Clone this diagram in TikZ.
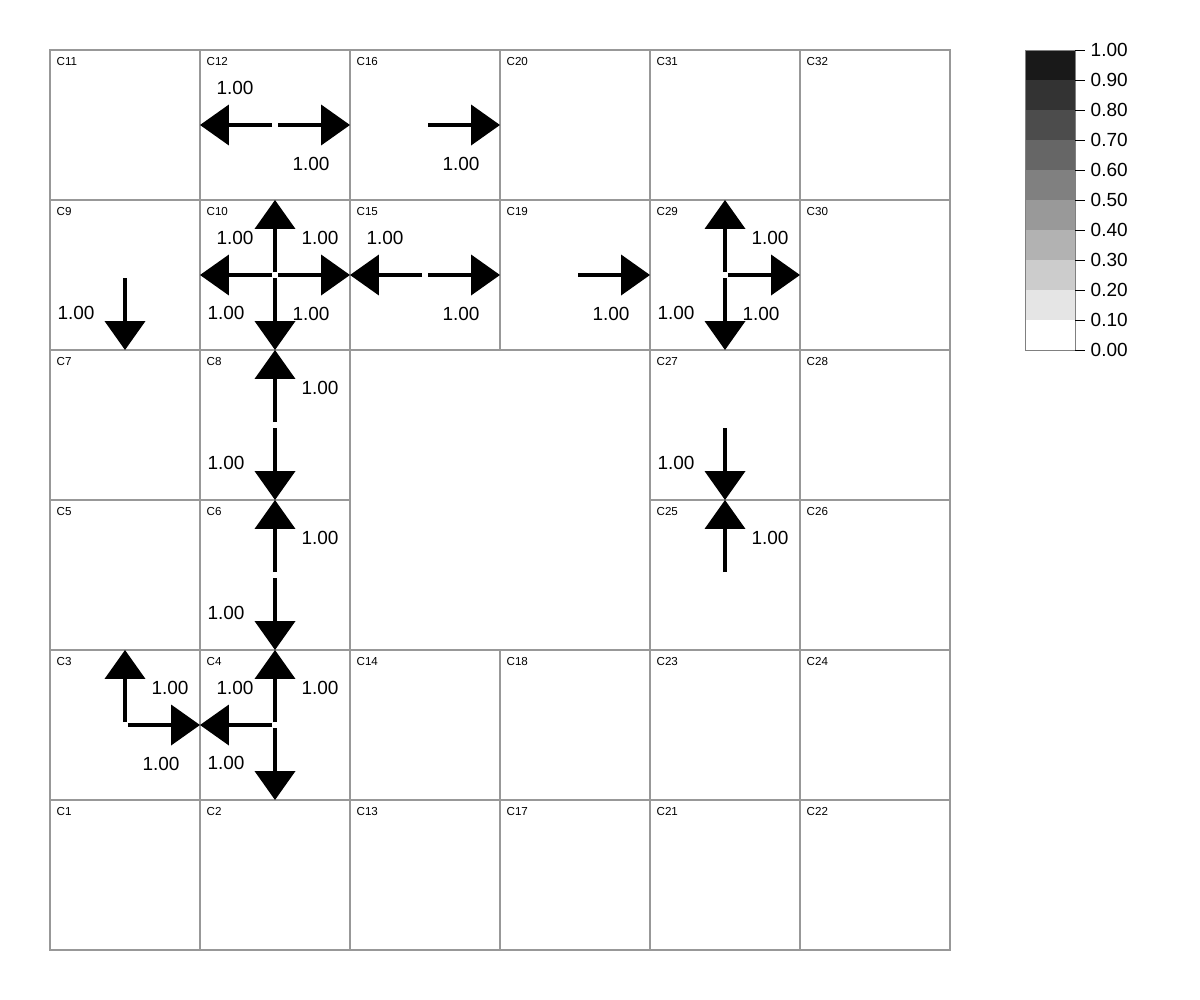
\documentclass[tikz,border=0pt]{standalone}
\usepackage{fontspec}
\setmainfont{Liberation Sans}
\usetikzlibrary{arrows.meta, positioning}
\definecolor{gridgray}{RGB}{152, 152, 152}

\begin{document}
\begin{tikzpicture}[x=0.01cm, y=-0.01cm,
    cell/.style={draw=gridgray, line width=0.2mm, minimum size=1.5cm, inner sep=0, outer sep=0},
    cname/.style={anchor=north west, inner sep=0, font=\fontsize{3.3}{4}\selectfont},
    val/.style={inner sep=0, font=\fontsize{5.4}{6}\selectfont},
    flow/.style={line width=0.4mm, -{Triangle[length=2.9mm, width=4mm]}}]

    % nen trang, khung 1200 x 1000
    \fill[white] (0,0) rectangle (1200,1000);
    \useasboundingbox (0,0) rectangle (1200,1000);

    % cac o luoi va ten o
    \foreach \n/\x/\y in {11/125/125, 12/275/125, 16/425/125, 20/575/125, 31/725/125, 32/875/125,
                          9/125/275, 10/275/275, 15/425/275, 19/575/275, 29/725/275, 30/875/275,
                          7/125/425, 8/275/425, 27/725/425, 28/875/425,
                          5/125/575, 6/275/575, 25/725/575, 26/875/575,
                          3/125/725, 4/275/725, 14/425/725, 18/575/725, 23/725/725, 24/875/725,
                          1/125/875, 2/275/875, 13/425/875, 17/575/875, 21/725/875, 22/875/875}{
        \node[cell] (c\n) at (\x,\y) {};
        \node[cname] (t\n) at ([shift={(6,7)}]c\n.north west) {C\n};
    }

    %C12
    \draw[flow] ([shift={(-3,0)}]c12.center) -- (c12.west);
    \node[val] (v12w) at ([shift={(-40,-37)}]c12.center) {1.00};
    \draw[flow] ([shift={(3,0)}]c12.center) -- (c12.east);
    \node[val] (v12e) at ([shift={(36,38.5)}]c12.center) {1.00};
    %C16
    \draw[flow] ([shift={(3,0)}]c16.center) -- (c16.east);
    \node[val] (v16e) at ([shift={(36,38.5)}]c16.center) {1.00};

    %C10
    \draw[flow] ([shift={(0,-3)}]c10.center) -- (c10.north);
    \node[val] (v10n) at ([shift={(45,-37.5)}]c10.center) {1.00};
    \draw[flow] ([shift={(-3,0)}]c10.center) -- (c10.west);
    \node[val] (v10w) at ([shift={(-40,-37)}]c10.center) {1.00};
    \draw[flow] ([shift={(3,0)}]c10.center) -- (c10.east);
    \node[val] (v10e) at ([shift={(36,38.5)}]c10.center) {1.00};
    \draw[flow] ([shift={(0,3)}]c10.center) -- (c10.south);
    \node[val] (v10s) at ([shift={(-49,37.5)}]c10.center) {1.00};
    %C15
    \draw[flow] ([shift={(-3,0)}]c15.center) -- (c15.west);
    \node[val] (v15w) at ([shift={(-40,-37)}]c15.center) {1.00};
    \draw[flow] ([shift={(3,0)}]c15.center) -- (c15.east);
    \node[val] (v15e) at ([shift={(36,38.5)}]c15.center) {1.00};
    %C19
    \draw[flow] ([shift={(3,0)}]c19.center) -- (c19.east);
    \node[val] (v19e) at ([shift={(36,38.5)}]c19.center) {1.00};
    %C29
    \draw[flow] ([shift={(0,-3)}]c29.center) -- (c29.north);
    \node[val] (v29n) at ([shift={(45,-37.5)}]c29.center) {1.00};
    \draw[flow] ([shift={(3,0)}]c29.center) -- (c29.east);
    \node[val] (v29e) at ([shift={(36,38.5)}]c29.center) {1.00};
    \draw[flow] ([shift={(0,3)}]c29.center) -- (c29.south);
    \node[val] (v29s) at ([shift={(-49,37.5)}]c29.center) {1.00};
    %C9
    \draw[flow] ([shift={(0,3)}]c9.center) -- (c9.south);
    \node[val] (v9s) at ([shift={(-49,37.5)}]c9.center) {1.00};

    %C8
    \draw[flow] ([shift={(0,-3)}]c8.center) -- (c8.north);
    \node[val] (v8n) at ([shift={(45,-37.5)}]c8.center) {1.00};
    \draw[flow] ([shift={(0,3)}]c8.center) -- (c8.south);
    \node[val] (v8s) at ([shift={(-49,37.5)}]c8.center) {1.00};
    %C27
    \draw[flow] ([shift={(0,3)}]c27.center) -- (c27.south);
    \node[val] (v27s) at ([shift={(-49,37.5)}]c27.center) {1.00};
    %C6
    \draw[flow] ([shift={(0,-3)}]c6.center) -- (c6.north);
    \node[val] (v6n) at ([shift={(45,-37.5)}]c6.center) {1.00};
    \draw[flow] ([shift={(0,3)}]c6.center) -- (c6.south);
    \node[val] (v6s) at ([shift={(-49,37.5)}]c6.center) {1.00};
    %C25
    \draw[flow] ([shift={(0,-3)}]c25.center) -- (c25.north);
    \node[val] (v25n) at ([shift={(45,-37.5)}]c25.center) {1.00};

    %C3
    \draw[flow] ([shift={(0,-3)}]c3.center) -- (c3.north);
    \node[val] (v3n) at ([shift={(45,-37.5)}]c3.center) {1.00};
    \draw[flow] ([shift={(3,0)}]c3.center) -- (c3.east);
    \node[val] (v3e) at ([shift={(36,38.5)}]c3.center) {1.00};
    %C4
    \draw[flow] ([shift={(0,-3)}]c4.center) -- (c4.north);
    \node[val] (v4n) at ([shift={(45,-37.5)}]c4.center) {1.00};
    \draw[flow] ([shift={(-3,0)}]c4.center) -- (c4.west);
    \node[val] (v4w) at ([shift={(-40,-37)}]c4.center) {1.00};
    \draw[flow] ([shift={(0,3)}]c4.center) -- (c4.south);
    \node[val] (v4s) at ([shift={(-49,37.5)}]c4.center) {1.00};

    % thang mau ben phai
    \foreach \k in {0,...,9}{
        \pgfmathtruncatemacro\g{10*\k}
        \fill[black!\g!white] (1025,{350-30*\k}) rectangle (1075,{320-30*\k});
    }
    \draw[gray, line width=0.1mm] (1025,50) rectangle (1075,350);
    \foreach \k/\t in {0/0.00, 1/0.10, 2/0.20, 3/0.30, 4/0.40, 5/0.50, 6/0.60, 7/0.70, 8/0.80, 9/0.90, 10/1.00}{
        \draw[black, line width=0.1mm] (1075,{350-30*\k}) -- (1085,{350-30*\k});
        \node[val, anchor=west] (lg\k) at (1090,{350-30*\k}) {\t};
    }
\end{tikzpicture}
\end{document}
